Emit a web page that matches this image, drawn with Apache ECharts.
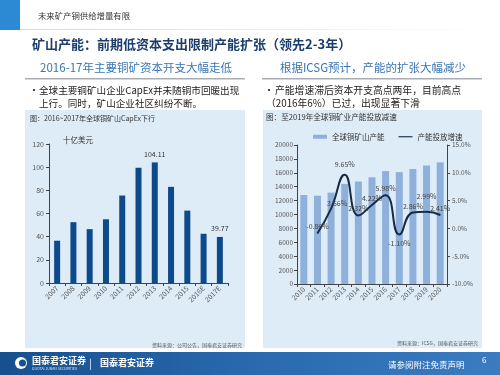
<!DOCTYPE html>
<html>
<head>
<meta charset="utf-8">
<script src="https://cdn.jsdelivr.net/npm/echarts@6/dist/echarts.min.js"></script>
<style>
  html, body { margin: 0; padding: 0; background: #fff; }
  #main { width: 500px; height: 375px; }
</style>
</head>
<body>
<div id="main"></div>
<script>
// 左图：全球铜矿山CapEx（十亿美元）
var capexYears = ['2007', '2008', '2009', '2010', '2011', '2012', '2013', '2014', '2015', '2016E', '2017E'];
var capexValues = [36.5, 52.5, 46.5, 55, 75.5, 99.5, 104.11, 83, 62.5, 42.5, 39.77];
var capexLabelled = ['2013', '2017E'];

// 右图：全球铜矿山产能 / 产能投放增速
var capYears = ['2010', '2011', '2012', '2013', '2014', '2015', '2016', '2017', '2018', '2019', '2020'];
var capValues = [12800, 12700, 13150, 14400, 14750, 15350, 16250, 16100, 16550, 17050, 17500];
var growthValues = [null, -0.86, 3.56, 9.65, 2.32, 4.22, 5.98, -1.10, 2.86, 2.99, 2.41];

var FONT = '"Noto Sans CJK SC", "Noto Sans", sans-serif';

var main = {
    init: function () {
        var dom = document.getElementById('main');
        var myChart = echarts.init(dom);
        myChart.setOption(this.buildOption(), true);
    },

    txt: function (x, y, s, size, color, extra) {
        var o = {
            type: 'text', x: x, y: y, z: 5,
            style: { text: s, fontSize: size, fill: color, fontFamily: FONT, textVerticalAlign: 'middle' }
        };
        if (extra) {
            for (var k in extra) o.style[k] = extra[k];
        }
        return o;
    },

    buildOption: function () {
        var _this = this;
        var axisLine = { show: true, lineStyle: { color: '#444', width: 1 } };

        // 左图柱子，只在2013和2017E显示数值
        var capexData = capexValues.map(function (v, i) {
            var show = capexLabelled.indexOf(capexYears[i]) != -1;
            return { value: v, label: { show: show } };
        });

        // 右图折线标签位置
        var labelPos = [null, 'top', 'top', 'top', 'top', 'top', 'top', 'bottom', 'top', 'top', 'top'];
        var labelOff = [null, [0, 2], [6, 4], [0, -1], [0, 2], [0, 2], [0, 2], [0, 0], [0, 3], [0, -6], [0, 2]];
        var growthData = growthValues.map(function (v, i) {
            if (v === null) return null;
            return {
                value: v,
                label: { show: true, position: labelPos[i], offset: labelOff[i] }
            };
        });

        var graphics = [
            // 页眉
            { type: 'rect', shape: { x: 0, y: 0, width: 20, height: 30 }, style: { fill: '#2b8ad3' }, z: -10 },
            { type: 'rect', shape: { x: 20, y: 29, width: 480, height: 1 },
              style: { fill: new echarts.graphic.LinearGradient(0, 0, 1, 0, [
                  { offset: 0, color: '#d5d9df' }, { offset: 1, color: '#ffffff' }]) }, z: -10 },
            _this.txt(38, 16, '未来矿产铜供给增量有限', 8.4, '#333'),
            _this.txt(32, 44, '矿山产能：前期低资本支出限制产能扩张（领先2-3年）', 13, '#1b3d6e', { fontWeight: 'bold' }),

            // 左栏
            _this.txt(136, 68, '2016-17年主要铜矿资本开支大幅走低', 11.5, '#3a76b2', { textAlign: 'center' }),
            { type: 'rect', shape: { x: 25, y: 78, width: 220, height: 1.5 }, style: { fill: '#a9adb3' }, z: -10 },
            _this.txt(29, 90, '•', 10, '#222'),
            _this.txt(39, 90, '全球主要铜矿山企业CapEx并未随铜市回暖出现', 9.6, '#222'),
            _this.txt(39, 103, '上行。同时，矿山企业社区纠纷不断。', 9.6, '#222'),
            { type: 'rect', shape: { x: 25, y: 110, width: 220, height: 238 }, style: { fill: '#deecf8' }, z: -10 },
            _this.txt(30, 118, '图：2016~2017年全球铜矿山CapEx下行', 7, '#333'),
            _this.txt(63, 140, '十亿美元', 7.5, '#333'),
            _this.txt(242, 345, '资料来源：公司公告，国泰君安证券研究', 5, '#555', { textAlign: 'right' }),

            // 右栏
            _this.txt(373, 68, '根据ICSG预计，产能的扩张大幅减少', 11.5, '#3a76b2', { textAlign: 'center' }),
            { type: 'rect', shape: { x: 262, y: 78, width: 220, height: 1.5 }, style: { fill: '#a9adb3' }, z: -10 },
            _this.txt(264, 90, '•', 10, '#222'),
            _this.txt(275, 90, '产能增速滞后资本开支高点两年，目前高点', 9.8, '#222'),
            _this.txt(266, 103, '（2016年6%）已过，出现显著下滑', 9.8, '#222'),
            { type: 'rect', shape: { x: 263, y: 110, width: 219, height: 238 }, style: { fill: '#deecf8' }, z: -10 },
            _this.txt(266, 117, '图：至2019年全球铜矿业产能投放减速', 7.6, '#333'),
            _this.txt(478, 343, '资料来源：ICSG，国泰君安证券研究', 5, '#555', { textAlign: 'right' }),

            // 页脚
            { type: 'rect', shape: { x: 0, y: 352, width: 500, height: 23 },
              style: { fill: new echarts.graphic.LinearGradient(0, 0, 1, 0, [
                  { offset: 0, color: '#16508f' }, { offset: 0.5, color: '#2a69ae' }, { offset: 1, color: '#3b7bc0' }]) }, z: -10 },
            { type: 'circle', shape: { cx: 21, cy: 363, r: 6 }, style: { fill: '#ffffff' }, z: 5 },
            { type: 'circle', shape: { cx: 22.5, cy: 363, r: 3.5 }, style: { fill: '#16508f' }, z: 6 },
            _this.txt(32, 361, '国泰君安证券', 9, '#fff', { fontWeight: 'bold' }),
            _this.txt(32, 369, 'GUOTAI JUNAN SECURITIES', 3.5, '#dfe8f4'),
            _this.txt(89, 363, '|', 10, '#fff'),
            _this.txt(100, 363, '国泰君安证券', 9, '#fff', { fontWeight: 'bold' }),
            _this.txt(388, 365, '请参阅附注免责声明', 8.5, '#fff'),
            _this.txt(482, 360, '6', 8, '#fff')
        ];

        var option = {
            backgroundColor: '#ffffff',
            animation: false,
            textStyle: { fontFamily: FONT },
            graphic: graphics,
            legend: {
                left: 308, top: 128,
                itemWidth: 14, itemHeight: 4, itemGap: 14,
                textStyle: { fontSize: 7.5, color: '#333', fontFamily: FONT },
                data: [
                    { name: '全球铜矿山产能', icon: 'rect' },
                    { name: '产能投放增速', icon: 'path://M0,0L20,0L20,1.6L0,1.6Z' }
                ]
            },
            grid: [
                { left: 49, top: 144, width: 179, height: 139 },
                { left: 297, top: 145, width: 150, height: 139 }
            ],
            xAxis: [
                {
                    type: 'category', gridIndex: 0, data: capexYears,
                    axisLine: axisLine,
                    axisTick: { show: true, length: 3, lineStyle: { color: '#444' } },
                    axisLabel: { fontSize: 7, color: '#555', fontFamily: FONT, rotate: 45, margin: 4, interval: 0 }
                },
                {
                    type: 'category', gridIndex: 1, data: capYears,
                    axisLine: axisLine,
                    axisTick: { show: true, length: 3, lineStyle: { color: '#444' } },
                    axisLabel: { fontSize: 7, color: '#555', fontFamily: FONT, rotate: 45, margin: 4, interval: 0 }
                }
            ],
            yAxis: [
                {
                    type: 'value', gridIndex: 0, min: 0, max: 120, interval: 20,
                    axisLine: axisLine,
                    axisTick: { show: true, length: 3, lineStyle: { color: '#444' } },
                    splitLine: { show: false },
                    axisLabel: { fontSize: 7, color: '#555', fontFamily: FONT, margin: 5 }
                },
                {
                    type: 'value', gridIndex: 1, min: 0, max: 20000, interval: 2000,
                    axisLine: axisLine,
                    axisTick: { show: true, length: 3, lineStyle: { color: '#444' } },
                    splitLine: { show: false },
                    axisLabel: {
                        fontSize: 6.5, color: '#555', fontFamily: FONT, margin: 4,
                        formatter: function (v) { return String(v); }
                    }
                },
                {
                    type: 'value', gridIndex: 1, position: 'right', min: -10, max: 15, interval: 5,
                    axisLine: axisLine,
                    axisTick: { show: true, length: 3, lineStyle: { color: '#444' } },
                    splitLine: { show: false },
                    axisLabel: {
                        fontSize: 6.5, color: '#555', fontFamily: FONT, margin: 5,
                        formatter: function (v) { return v.toFixed(1) + '%'; }
                    }
                }
            ],
            series: [
                {
                    name: 'CapEx', type: 'bar', xAxisIndex: 0, yAxisIndex: 0,
                    barWidth: 6,
                    itemStyle: { color: '#0d4a8c' },
                    label: {
                        position: 'top', fontSize: 7, color: '#333', distance: 5,
                        formatter: function (p) { return p.value.toFixed(2); }
                    },
                    data: capexData
                },
                {
                    name: '全球铜矿山产能', type: 'bar', xAxisIndex: 1, yAxisIndex: 1,
                    barWidth: 7,
                    itemStyle: { color: '#8eb0da' },
                    data: capValues
                },
                {
                    name: '产能投放增速', type: 'line', xAxisIndex: 1, yAxisIndex: 2,
                    smooth: 0.5, connectNulls: false,
                    symbol: 'circle', symbolSize: 1, showSymbol: true,
                    itemStyle: { color: '#172a46' },
                    lineStyle: { color: '#172a46', width: 2 },
                    label: {
                        fontSize: 7, color: '#444', fontFamily: FONT, distance: 5,
                        formatter: function (p) { return p.value.toFixed(2) + '%'; }
                    },
                    z: 5,
                    data: growthData
                }
            ]
        };
        return option;
    }
};

main.init();
</script>
</body>
</html>
